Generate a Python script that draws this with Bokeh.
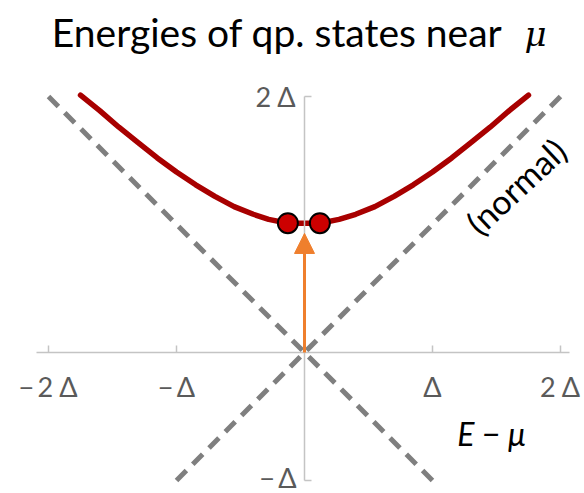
from bokeh.plotting import figure
from bokeh.models import Label, Arrow, NormalHead, FixedTicker
from bokeh.embed import file_html
from bokeh.resources import INLINE
from bokeh.core.properties import value

# Superconducting quasiparticle branch, energies in units of the gap Δ
xi = [-1.75, -1.6, -1.45, -1.3, -1.15, -1.0, -0.85, -0.7, -0.55, -0.4, -0.28, -0.13,
      0.12, 0.27, 0.4, 0.55, 0.7, 0.85, 1.0, 1.15, 1.3, 1.45, 1.6, 1.75]
energy = [2.01, 1.89, 1.76, 1.64, 1.52, 1.41, 1.31, 1.22, 1.14, 1.08, 1.04, 1.01,
          1.01, 1.04, 1.08, 1.14, 1.22, 1.31, 1.41, 1.52, 1.64, 1.76, 1.89, 2.01]

# the two states right at the gap edge
state_x = [-0.13, 0.12]
state_y = [1.01, 1.01]

# normal-metal dispersion |E - mu|
normal_a_x = [-2.0, 1.0]
normal_a_y = [2.0, -1.0]
normal_b_x = [-1.0, 2.0]
normal_b_y = [-1.0, 2.0]

# excitation arrow
arrow_start = (0.0, 0.0)
arrow_end = (0.0, 0.93)

x_ticks = [-2, -1, 1, 2]
x_tick_labels = ["\u2212\u20092 \u0394", "\u2212\u2009\u0394", "\u0394", "2 \u0394"]
y_ticks = [-1, 2]
y_tick_labels = ["\u2212\u2009\u0394", "2 \u0394"]

FONT = "Lato"
W, H = 584, 493

p = figure(width=W, height=H, output_backend="svg", toolbar_location=None,
           x_range=(-2.375, 2.1875), y_range=(-1.1016, 2.75),
           min_border=0, outline_line_color=None)
p.grid.visible = False
p.background_fill_color = "white"
p.border_fill_color = "white"

for ax in (p.xaxis[0], p.yaxis[0]):
    ax.fixed_location = 0
    ax.axis_line_color = "#c4c4c4"
    ax.axis_line_width = 1.5
    ax.major_tick_line_color = "#c4c4c4"
    ax.major_tick_line_width = 1.5
    ax.major_tick_in = 7
    ax.major_tick_out = 0
    ax.minor_tick_line_color = None
    ax.major_label_text_font = FONT
    ax.major_label_text_font_size = "27px"
    ax.major_label_text_color = "#5a5a5a"

p.xaxis.ticker = FixedTicker(ticks=x_ticks)
p.xaxis.major_label_overrides = dict(zip(x_ticks, x_tick_labels))
p.xaxis.bounds = (-2.09, 2.07)
p.xaxis.major_label_standoff = 18

p.yaxis.ticker = FixedTicker(ticks=y_ticks)
p.yaxis.major_label_overrides = dict(zip(y_ticks, y_tick_labels))
p.yaxis.bounds = (-1, 2)
p.yaxis.major_label_standoff = 8

# normal-state lines
p.line(normal_a_x, normal_a_y, line_color="#7f7f7f", line_width=5, line_dash="14 9")
p.line(normal_b_x, normal_b_y, line_color="#7f7f7f", line_width=5, line_dash="14 9")

# excitation arrow from mu up to the gap edge
p.add_layout(Arrow(x_start=arrow_start[0], y_start=arrow_start[1],
                   x_end=arrow_end[0], y_end=arrow_end[1],
                   line_color="#ef7f2d", line_width=3,
                   end=NormalHead(size=20, fill_color="#ef7f2d", line_color="#ef7f2d")))

# quasiparticle branch
p.line(xi, energy, line_color="#a80000", line_width=5.5, line_cap="round")
p.scatter(state_x, state_y, size=20, fill_color="#cc0000", line_color="black", line_width=2)

# annotations
p.text(x=[1.65], y=[1.30], text=["(normal)"], angle=0.75,
       text_font=value(FONT), text_font_size="34px", text_color="black",
       text_align="center", text_baseline="middle")
p.text(x=[1.46], y=[-0.63], text=["E \u2212 \u03bc"],
       text_font=value(FONT), text_font_style="italic", text_font_size="32px",
       text_color="black", text_align="center", text_baseline="middle")

p.add_layout(Label(x=502, y=H - 31, x_units="screen", y_units="screen",
                   text="Energies of qp. states near", text_font=FONT,
                   text_font_size="39px", text_color="black",
                   text_align="right", text_baseline="middle"))
p.add_layout(Label(x=524, y=H - 33, x_units="screen", y_units="screen",
                   text="\u03bc", text_font="DejaVu Serif", text_font_style="italic",
                   text_font_size="34px", text_color="black",
                   text_align="left", text_baseline="middle"))

open("out.html", "w").write(file_html(p, INLINE))
